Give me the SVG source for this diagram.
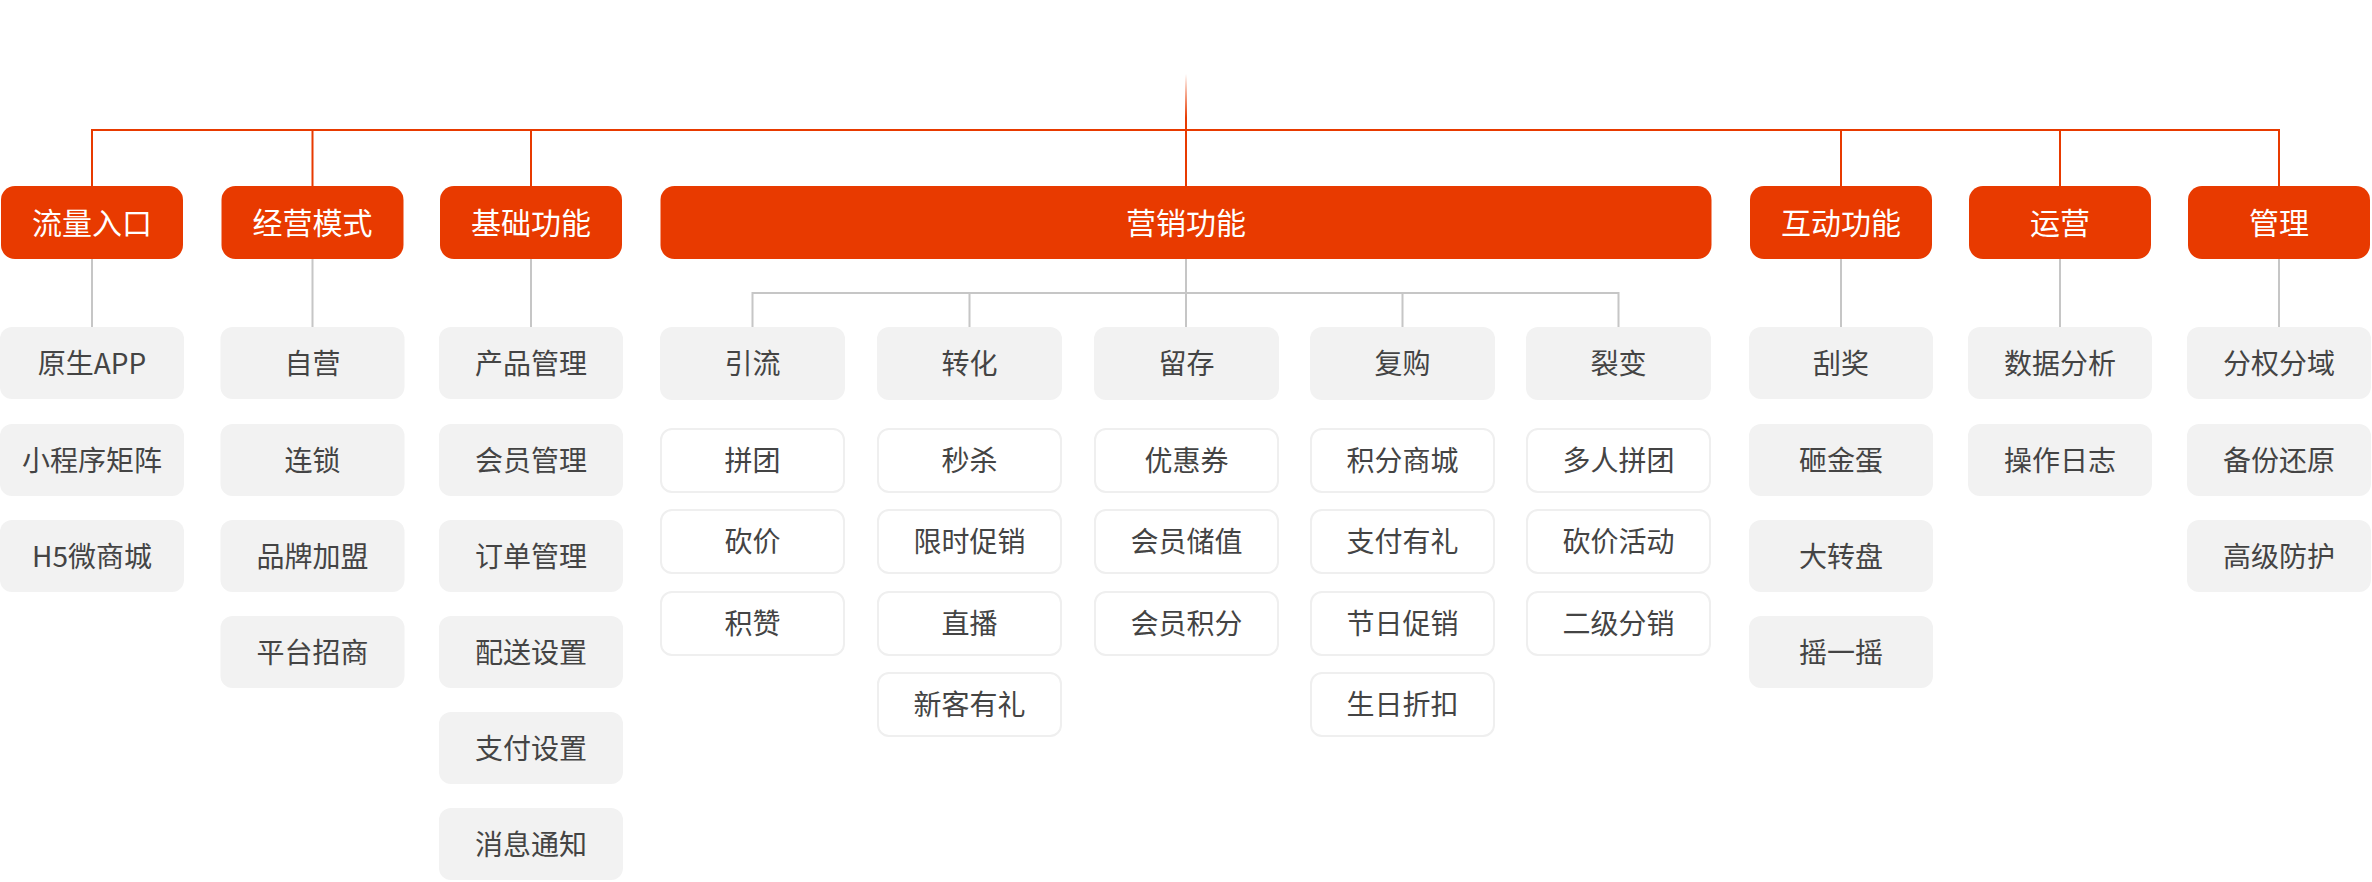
<svg xmlns="http://www.w3.org/2000/svg" width="2372" height="882" viewBox="0 0 2372 882">
<defs>
<linearGradient id="fade" gradientUnits="userSpaceOnUse" x1="0" y1="74" x2="0" y2="118">
<stop offset="0" stop-color="#e83a00" stop-opacity="0"/>
<stop offset="1" stop-color="#e83a00" stop-opacity="1"/>
</linearGradient>
<style>
.red rect{fill:#e83a00}
.red text{fill:#ffffff;font-size:30px}
.gray rect{fill:#f2f2f2}
.white rect{fill:#ffffff;stroke:#efefef;stroke-width:2}
text{font-family:"Noto Sans CJK SC","Noto Sans",sans-serif;font-size:28px;fill:#444444;text-anchor:middle}
.rl{stroke:#e83a00;stroke-width:2;fill:none}
.gl{stroke:#c6c6c6;stroke-width:2;fill:none}
</style>
</defs>
<rect width="2372" height="882" fill="#ffffff"/>
<g id="connectors">
<line x1="1186" y1="74" x2="1186" y2="130" stroke="url(#fade)" stroke-width="2"/>
<path class="rl" d="M92 186V130H2279V186M312.5 130V186M531 130V186M1186 130V186M1841 130V186M2060 130V186"/>
<path class="gl" d="M92 259V327M312.5 259V327M531 259V327M1841 259V327M2060 259V327M2279 259V327"/>
<path class="gl" d="M1186 259V327M752.5 327V293H1618.5V327M969.5 293V327M1402.5 293V327"/>
</g>
<g id="n-root-liuliang" class="red"><rect x="1" y="186" width="182" height="73" rx="14"/><text x="92" y="233.5">流量入口</text></g>
<g id="n-root-jingying" class="red"><rect x="221.5" y="186" width="182" height="73" rx="14"/><text x="312.5" y="233.5">经营模式</text></g>
<g id="n-root-jichu" class="red"><rect x="440" y="186" width="182" height="73" rx="14"/><text x="531" y="233.5">基础功能</text></g>
<g id="n-root-yingxiao" class="red"><rect x="660.5" y="186" width="1051" height="73" rx="14"/><text x="1186" y="233.5">营销功能</text></g>
<g id="n-root-hudong" class="red"><rect x="1750" y="186" width="182" height="73" rx="14"/><text x="1841" y="233.5">互动功能</text></g>
<g id="n-root-yunying" class="red"><rect x="1969" y="186" width="182" height="73" rx="14"/><text x="2060" y="233.5">运营</text></g>
<g id="n-root-guanli" class="red"><rect x="2188" y="186" width="182" height="73" rx="14"/><text x="2279" y="233.5">管理</text></g>

<g id="n-c1-1" class="gray"><rect x="0" y="327" width="184" height="72" rx="12"/><text x="92" y="373.5">原生APP</text></g>
<g id="n-c1-2" class="gray"><rect x="0" y="424" width="184" height="72" rx="12"/><text x="92" y="470.5">小程序矩阵</text></g>
<g id="n-c1-3" class="gray"><rect x="0" y="520" width="184" height="72" rx="12"/><text x="92" y="566.5">H5微商城</text></g>

<g id="n-c2-1" class="gray"><rect x="220.5" y="327" width="184" height="72" rx="12"/><text x="312.5" y="373.5">自营</text></g>
<g id="n-c2-2" class="gray"><rect x="220.5" y="424" width="184" height="72" rx="12"/><text x="312.5" y="470.5">连锁</text></g>
<g id="n-c2-3" class="gray"><rect x="220.5" y="520" width="184" height="72" rx="12"/><text x="312.5" y="566.5">品牌加盟</text></g>
<g id="n-c2-4" class="gray"><rect x="220.5" y="616" width="184" height="72" rx="12"/><text x="312.5" y="662.5">平台招商</text></g>

<g id="n-c3-1" class="gray"><rect x="439" y="327" width="184" height="72" rx="12"/><text x="531" y="373.5">产品管理</text></g>
<g id="n-c3-2" class="gray"><rect x="439" y="424" width="184" height="72" rx="12"/><text x="531" y="470.5">会员管理</text></g>
<g id="n-c3-3" class="gray"><rect x="439" y="520" width="184" height="72" rx="12"/><text x="531" y="566.5">订单管理</text></g>
<g id="n-c3-4" class="gray"><rect x="439" y="616" width="184" height="72" rx="12"/><text x="531" y="662.5">配送设置</text></g>
<g id="n-c3-5" class="gray"><rect x="439" y="712" width="184" height="72" rx="12"/><text x="531" y="758.5">支付设置</text></g>
<g id="n-c3-6" class="gray"><rect x="439" y="808" width="184" height="72" rx="12"/><text x="531" y="854.5">消息通知</text></g>

<g id="n-m-yinliu" class="gray"><rect x="660" y="327" width="185" height="73" rx="12"/><text x="752.5" y="374">引流</text></g>
<g id="n-m-zhuanhua" class="gray"><rect x="877" y="327" width="185" height="73" rx="12"/><text x="969.5" y="374">转化</text></g>
<g id="n-m-liucun" class="gray"><rect x="1094" y="327" width="185" height="73" rx="12"/><text x="1186.5" y="374">留存</text></g>
<g id="n-m-fugou" class="gray"><rect x="1310" y="327" width="185" height="73" rx="12"/><text x="1402.5" y="374">复购</text></g>
<g id="n-m-liebian" class="gray"><rect x="1526" y="327" width="185" height="73" rx="12"/><text x="1618.5" y="374">裂变</text></g>

<g id="n-yl-1" class="white"><rect x="661" y="429" width="183" height="63" rx="11"/><text x="752.5" y="470.5">拼团</text></g>
<g id="n-yl-2" class="white"><rect x="661" y="510" width="183" height="63" rx="11"/><text x="752.5" y="551.5">砍价</text></g>
<g id="n-yl-3" class="white"><rect x="661" y="592" width="183" height="63" rx="11"/><text x="752.5" y="633.5">积赞</text></g>

<g id="n-zh-1" class="white"><rect x="878" y="429" width="183" height="63" rx="11"/><text x="969.5" y="470.5">秒杀</text></g>
<g id="n-zh-2" class="white"><rect x="878" y="510" width="183" height="63" rx="11"/><text x="969.5" y="551.5">限时促销</text></g>
<g id="n-zh-3" class="white"><rect x="878" y="592" width="183" height="63" rx="11"/><text x="969.5" y="633.5">直播</text></g>
<g id="n-zh-4" class="white"><rect x="878" y="673" width="183" height="63" rx="11"/><text x="969.5" y="714.5">新客有礼</text></g>

<g id="n-lc-1" class="white"><rect x="1095" y="429" width="183" height="63" rx="11"/><text x="1186.5" y="470.5">优惠券</text></g>
<g id="n-lc-2" class="white"><rect x="1095" y="510" width="183" height="63" rx="11"/><text x="1186.5" y="551.5">会员储值</text></g>
<g id="n-lc-3" class="white"><rect x="1095" y="592" width="183" height="63" rx="11"/><text x="1186.5" y="633.5">会员积分</text></g>

<g id="n-fg-1" class="white"><rect x="1311" y="429" width="183" height="63" rx="11"/><text x="1402.5" y="470.5">积分商城</text></g>
<g id="n-fg-2" class="white"><rect x="1311" y="510" width="183" height="63" rx="11"/><text x="1402.5" y="551.5">支付有礼</text></g>
<g id="n-fg-3" class="white"><rect x="1311" y="592" width="183" height="63" rx="11"/><text x="1402.5" y="633.5">节日促销</text></g>
<g id="n-fg-4" class="white"><rect x="1311" y="673" width="183" height="63" rx="11"/><text x="1402.5" y="714.5">生日折扣</text></g>

<g id="n-lb-1" class="white"><rect x="1527" y="429" width="183" height="63" rx="11"/><text x="1618.5" y="470.5">多人拼团</text></g>
<g id="n-lb-2" class="white"><rect x="1527" y="510" width="183" height="63" rx="11"/><text x="1618.5" y="551.5">砍价活动</text></g>
<g id="n-lb-3" class="white"><rect x="1527" y="592" width="183" height="63" rx="11"/><text x="1618.5" y="633.5">二级分销</text></g>

<g id="n-hd-1" class="gray"><rect x="1749" y="327" width="184" height="72" rx="12"/><text x="1841" y="373.5">刮奖</text></g>
<g id="n-hd-2" class="gray"><rect x="1749" y="424" width="184" height="72" rx="12"/><text x="1841" y="470.5">砸金蛋</text></g>
<g id="n-hd-3" class="gray"><rect x="1749" y="520" width="184" height="72" rx="12"/><text x="1841" y="566.5">大转盘</text></g>
<g id="n-hd-4" class="gray"><rect x="1749" y="616" width="184" height="72" rx="12"/><text x="1841" y="662.5">摇一摇</text></g>

<g id="n-yy-1" class="gray"><rect x="1968" y="327" width="184" height="72" rx="12"/><text x="2060" y="373.5">数据分析</text></g>
<g id="n-yy-2" class="gray"><rect x="1968" y="424" width="184" height="72" rx="12"/><text x="2060" y="470.5">操作日志</text></g>

<g id="n-gl-1" class="gray"><rect x="2187" y="327" width="184" height="72" rx="12"/><text x="2279" y="373.5">分权分域</text></g>
<g id="n-gl-2" class="gray"><rect x="2187" y="424" width="184" height="72" rx="12"/><text x="2279" y="470.5">备份还原</text></g>
<g id="n-gl-3" class="gray"><rect x="2187" y="520" width="184" height="72" rx="12"/><text x="2279" y="566.5">高级防护</text></g>
</svg>
